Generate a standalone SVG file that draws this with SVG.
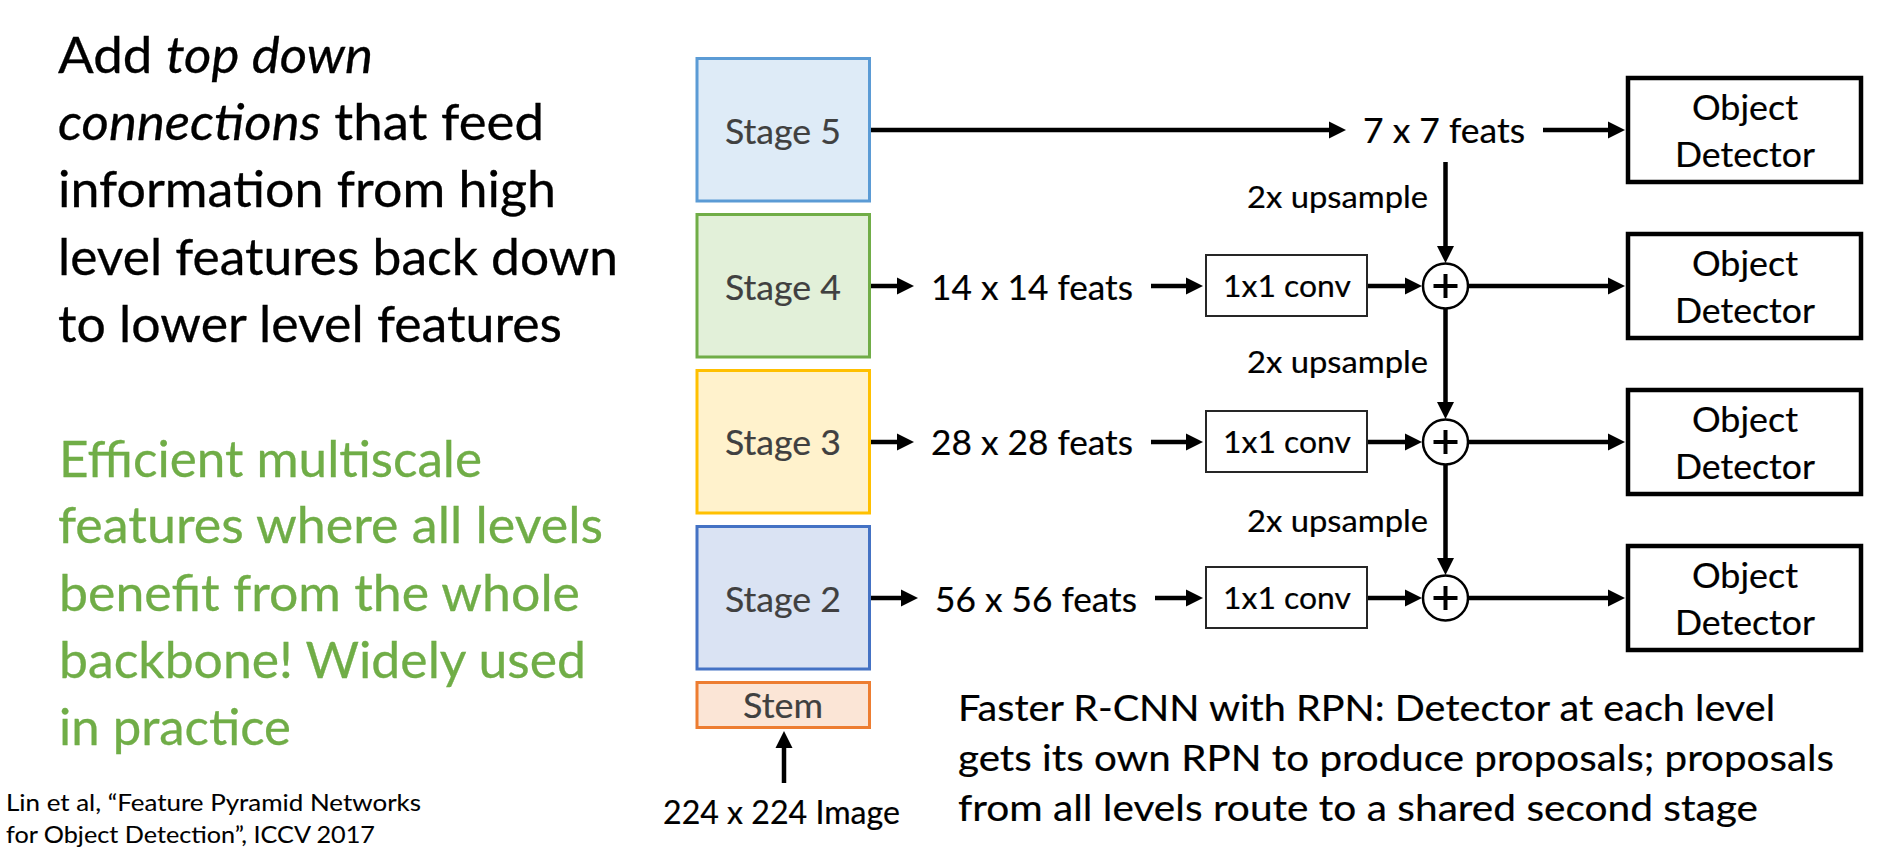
<svg xmlns="http://www.w3.org/2000/svg" width="1887" height="856" viewBox="0 0 1887 856">
<style>
text{font-family:Lato,"Open Sans","Liberation Sans",sans-serif;fill:#000;stroke:#000;stroke-width:0.2}
.big{font-size:49.5px;stroke-width:0.3}
.green{fill:#70AD47;stroke:#70AD47}
.cite{font-size:23.5px;stroke-width:0.1}
.stage{font-size:35px;fill:#404040;stroke:#404040;text-anchor:middle}
.lbl{font-size:35px}
.sm{font-size:31.5px}
.mid{text-anchor:middle}
.note{font-size:37px}
.det{fill:#fff;stroke:#000;stroke-width:4.5}
.conv{fill:#fff;stroke:#262626;stroke-width:2}
.conn line{stroke:#000;stroke-width:4.5;fill:none}
.sum circle{fill:#fff;stroke:#000;stroke-width:2.5}
.sum path{stroke:#000;stroke-width:4;fill:none}
</style>
<defs>
<marker id="ah" markerUnits="userSpaceOnUse" markerWidth="18" markerHeight="18" viewBox="0 0 18 18" refX="6" refY="9" orient="auto">
<path d="M0,0.5 L17,9 L0,17.5 z" fill="#000"/>
</marker>
</defs>

<g id="left-text">
<text class="big" x="58" y="73" textLength="315" lengthAdjust="spacingAndGlyphs">Add <tspan font-style="italic">top down</tspan></text>
<text class="big" x="58" y="140" textLength="486" lengthAdjust="spacingAndGlyphs"><tspan font-style="italic">connections</tspan> that feed</text>
<text class="big" x="58" y="207" textLength="498" lengthAdjust="spacingAndGlyphs">information from high</text>
<text class="big" x="58" y="275" textLength="560" lengthAdjust="spacingAndGlyphs">level features back down</text>
<text class="big" x="58" y="342" textLength="504" lengthAdjust="spacingAndGlyphs">to lower level features</text>
</g>
<g id="green-text">
<text class="big green" x="59" y="477" textLength="423" lengthAdjust="spacingAndGlyphs">Efficient multiscale</text>
<text class="big green" x="58" y="543" textLength="545" lengthAdjust="spacingAndGlyphs">features where all levels</text>
<text class="big green" x="59" y="611" textLength="521" lengthAdjust="spacingAndGlyphs">benefit from the whole</text>
<text class="big green" x="59" y="678" textLength="527" lengthAdjust="spacingAndGlyphs">backbone! Widely used</text>
<text class="big green" x="59" y="745" textLength="232" lengthAdjust="spacingAndGlyphs">in practice</text>
</g>
<g id="citation">
<text class="cite" x="6" y="811" textLength="415" lengthAdjust="spacingAndGlyphs">Lin et al, “Feature Pyramid Networks</text>
<text class="cite" x="6" y="843" textLength="369" lengthAdjust="spacingAndGlyphs">for Object Detection”, ICCV 2017</text>
</g>

<g id="stage5">
<rect x="697" y="58.5" width="172.5" height="142.5" fill="#DEEBF7" stroke="#5B9BD5" stroke-width="3"/>
<text class="stage" x="783" y="144" textLength="116" lengthAdjust="spacingAndGlyphs">Stage 5</text>
</g>
<g id="stage4">
<rect x="697" y="214.5" width="172.5" height="142.5" fill="#E2F0D9" stroke="#70AD47" stroke-width="3"/>
<text class="stage" x="783" y="300" textLength="116" lengthAdjust="spacingAndGlyphs">Stage 4</text>
</g>
<g id="stage3">
<rect x="697" y="370.5" width="172.5" height="142.5" fill="#FFF2CC" stroke="#FFC000" stroke-width="3"/>
<text class="stage" x="783" y="455" textLength="116" lengthAdjust="spacingAndGlyphs">Stage 3</text>
</g>
<g id="stage2">
<rect x="697" y="526.5" width="172.5" height="142.5" fill="#DAE3F3" stroke="#4472C4" stroke-width="3"/>
<text class="stage" x="783" y="612" textLength="116" lengthAdjust="spacingAndGlyphs">Stage 2</text>
</g>
<g id="stem">
<rect x="697" y="682.5" width="172.5" height="45" fill="#FBE5D6" stroke="#ED7D31" stroke-width="3"/>
<text class="stage" x="783" y="718" textLength="80" lengthAdjust="spacingAndGlyphs">Stem</text>
</g>
<g id="image">
<text class="lbl mid" style="font-size:32px" x="781.5" y="824" textLength="237" lengthAdjust="spacingAndGlyphs">224 x 224 Image</text>
</g>

<g id="feats">
<text class="lbl" x="1363" y="143" textLength="162" lengthAdjust="spacingAndGlyphs">7 x 7 feats</text>
<text class="lbl" x="931" y="300" textLength="202" lengthAdjust="spacingAndGlyphs">14 x 14 feats</text>
<text class="lbl" x="931" y="455" textLength="202" lengthAdjust="spacingAndGlyphs">28 x 28 feats</text>
<text class="lbl" x="935" y="612" textLength="202" lengthAdjust="spacingAndGlyphs">56 x 56 feats</text>
</g>

<g id="conv4">
<rect class="conv" x="1206" y="255" width="161" height="61"/>
<text class="sm mid" x="1287" y="297" textLength="128" lengthAdjust="spacingAndGlyphs">1x1 conv</text>
</g>
<g id="conv3">
<rect class="conv" x="1206" y="411" width="161" height="61"/>
<text class="sm mid" x="1287" y="453" textLength="128" lengthAdjust="spacingAndGlyphs">1x1 conv</text>
</g>
<g id="conv2">
<rect class="conv" x="1206" y="567" width="161" height="61"/>
<text class="sm mid" x="1287" y="609" textLength="128" lengthAdjust="spacingAndGlyphs">1x1 conv</text>
</g>

<g id="upsample-labels">
<text class="sm" x="1247" y="208" textLength="181" lengthAdjust="spacingAndGlyphs">2x upsample</text>
<text class="sm" x="1247" y="373" textLength="181" lengthAdjust="spacingAndGlyphs">2x upsample</text>
<text class="sm" x="1247" y="532" textLength="181" lengthAdjust="spacingAndGlyphs">2x upsample</text>
</g>

<g id="det5">
<rect class="det" x="1628" y="78" width="233" height="104"/>
<text class="lbl mid" x="1745" y="120" textLength="106" lengthAdjust="spacingAndGlyphs">Object</text>
<text class="lbl mid" x="1745" y="167" textLength="140" lengthAdjust="spacingAndGlyphs">Detector</text>
</g>
<g id="det4">
<rect class="det" x="1628" y="234" width="233" height="104"/>
<text class="lbl mid" x="1745" y="276" textLength="106" lengthAdjust="spacingAndGlyphs">Object</text>
<text class="lbl mid" x="1745" y="323" textLength="140" lengthAdjust="spacingAndGlyphs">Detector</text>
</g>
<g id="det3">
<rect class="det" x="1628" y="390" width="233" height="104"/>
<text class="lbl mid" x="1745" y="432" textLength="106" lengthAdjust="spacingAndGlyphs">Object</text>
<text class="lbl mid" x="1745" y="479" textLength="140" lengthAdjust="spacingAndGlyphs">Detector</text>
</g>
<g id="det2">
<rect class="det" x="1628" y="546" width="233" height="104"/>
<text class="lbl mid" x="1745" y="588" textLength="106" lengthAdjust="spacingAndGlyphs">Object</text>
<text class="lbl mid" x="1745" y="635" textLength="140" lengthAdjust="spacingAndGlyphs">Detector</text>
</g>

<g id="note">
<text class="note" x="958" y="721" textLength="817" lengthAdjust="spacingAndGlyphs">Faster R-CNN with RPN: Detector at each level</text>
<text class="note" x="958" y="771" textLength="876" lengthAdjust="spacingAndGlyphs">gets its own RPN to produce proposals; proposals</text>
<text class="note" x="958" y="821" textLength="800" lengthAdjust="spacingAndGlyphs">from all levels route to a shared second stage</text>
</g>

<g id="connectors" class="conn">
<line x1="871" y1="130" x2="1335" y2="130" marker-end="url(#ah)"/>
<line x1="1543" y1="130" x2="1614" y2="130" marker-end="url(#ah)"/>
<line x1="1445.5" y1="162" x2="1445.5" y2="252" marker-end="url(#ah)"/>
<line x1="1445.5" y1="308" x2="1445.5" y2="408" marker-end="url(#ah)"/>
<line x1="1445.5" y1="464" x2="1445.5" y2="564" marker-end="url(#ah)"/>
<line x1="871" y1="286" x2="903" y2="286" marker-end="url(#ah)"/>
<line x1="871" y1="442" x2="903" y2="442" marker-end="url(#ah)"/>
<line x1="871" y1="598" x2="907" y2="598" marker-end="url(#ah)"/>
<line x1="1151" y1="286" x2="1192" y2="286" marker-end="url(#ah)"/>
<line x1="1151" y1="442" x2="1192" y2="442" marker-end="url(#ah)"/>
<line x1="1155" y1="598" x2="1192" y2="598" marker-end="url(#ah)"/>
<line x1="1368" y1="286" x2="1411" y2="286" marker-end="url(#ah)"/>
<line x1="1368" y1="442" x2="1411" y2="442" marker-end="url(#ah)"/>
<line x1="1368" y1="598" x2="1411" y2="598" marker-end="url(#ah)"/>
<line x1="1468" y1="286" x2="1614" y2="286" marker-end="url(#ah)"/>
<line x1="1468" y1="442" x2="1614" y2="442" marker-end="url(#ah)"/>
<line x1="1468" y1="598" x2="1614" y2="598" marker-end="url(#ah)"/>
<line x1="784" y1="783" x2="784" y2="742" marker-end="url(#ah)"/>
</g>

<g id="sum4" class="sum">
<circle cx="1445.5" cy="286" r="22.5"/>
<path d="M1433.5,286 H1457.5 M1445.5,274 V298"/>
</g>
<g id="sum3" class="sum">
<circle cx="1445.5" cy="442" r="22.5"/>
<path d="M1433.5,442 H1457.5 M1445.5,430 V454"/>
</g>
<g id="sum2" class="sum">
<circle cx="1445.5" cy="598" r="22.5"/>
<path d="M1433.5,598 H1457.5 M1445.5,586 V610"/>
</g>
</svg>
